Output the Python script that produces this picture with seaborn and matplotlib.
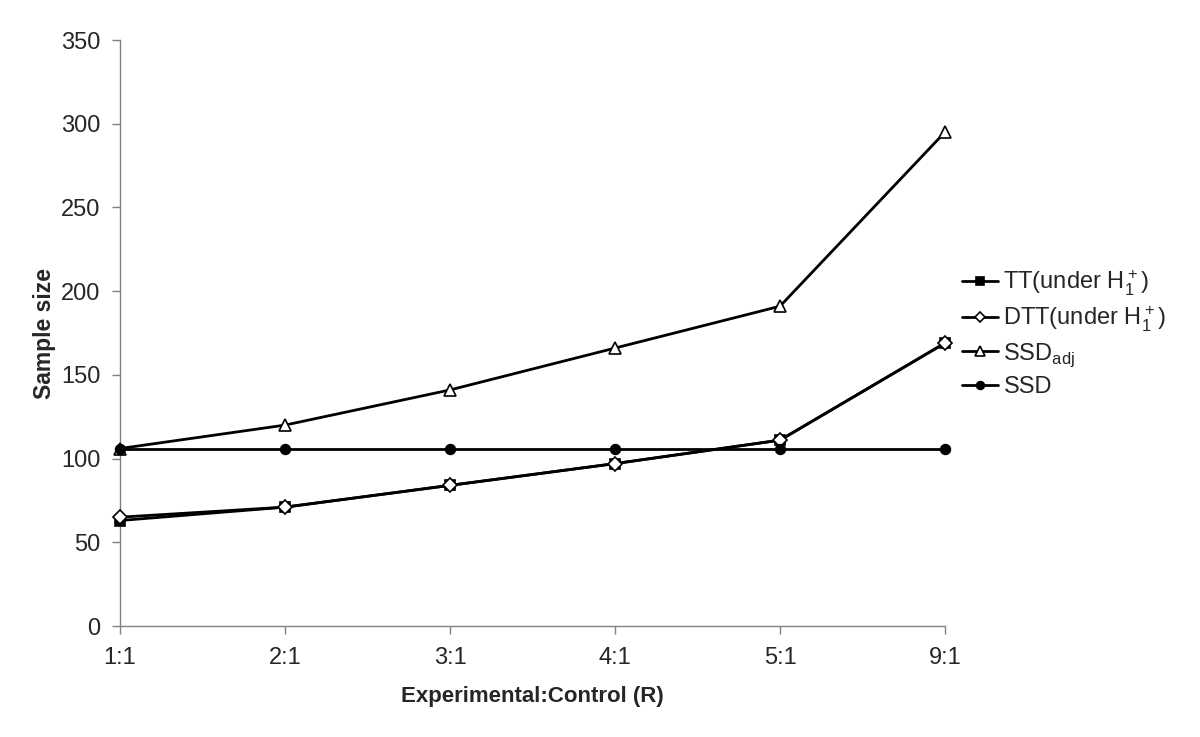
import pandas as pd
import matplotlib.pyplot as plt
import seaborn as sns

# ---- data ----
ratios = ["1:1", "2:1", "3:1", "4:1", "5:1", "9:1"]
tt = [63, 71, 84, 97, 111, 169]
dtt = [65, 71, 84, 97, 111, 169]
ssd_adj = [106, 120, 141, 166, 191, 295]
ssd = [106, 106, 106, 106, 106, 106]

sns.set_style("white")
plt.rcParams['font.family'] = ['Liberation Sans', 'DejaVu Sans']
plt.rcParams['mathtext.fontset'] = 'custom'
plt.rcParams['mathtext.rm'] = 'Liberation Sans'

fig = plt.figure(figsize=(12, 7.37), dpi=100)
ax = fig.add_axes([0.1, 0.1506, 0.6875, 0.7951])

series = [
    ("TT(under $\\mathregular{H_1^+}$)", tt, dict(marker="s", markersize=7, markerfacecolor="black")),
    ("DTT(under $\\mathregular{H_1^+}$)", dtt, dict(marker="D", markersize=7, markerfacecolor="white")),
    ("SSD$_{\\mathregular{adj}}$", ssd_adj, dict(marker="^", markersize=9, markerfacecolor="white")),
    ("SSD", ssd, dict(marker="o", markersize=7, markerfacecolor="black")),
]

for label, vals, style in series:
    df = pd.DataFrame({"R": ratios, "n": vals})
    sns.lineplot(data=df, x="R", y="n", ax=ax, label=label, color="black",
                 linewidth=2, markeredgecolor="black", markeredgewidth=1.2,
                 clip_on=False, zorder=3, **style)

ax.set_xlim(0, len(ratios) - 1)
ax.set_ylim(0, 350)
ax.set_yticks(range(0, 351, 50))
ax.set_xlabel("Experimental:Control (R)", fontsize=16, fontweight="bold", labelpad=12)
ax.set_ylabel("Sample size", fontsize=16.5, fontweight="bold", labelpad=4)
ax.tick_params(axis="both", labelsize=17, direction="out", length=6, width=1,
               color="#808080", left=True, bottom=True)
ax.tick_params(axis="x", pad=9)
ax.tick_params(axis="y", pad=8)
for side in ["top", "right"]:
    ax.spines[side].set_visible(False)
for side in ["left", "bottom"]:
    ax.spines[side].set_color("#808080")
    ax.spines[side].set_linewidth(1)

leg = ax.legend(loc="center left", bbox_to_anchor=(0.995, 0.5), frameon=False,
                fontsize=17, handlelength=1.5, handletextpad=0.25, labelspacing=0.3,
                markerscale=0.8)

fig.savefig("out.png", dpi=100)
